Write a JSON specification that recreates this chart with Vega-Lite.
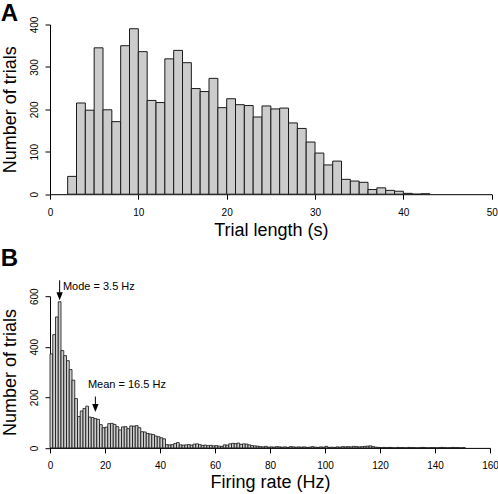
{
  "$schema": "https://vega.github.io/schema/vega-lite/v6.json",
  "padding": {"left": 0, "top": 1.5, "right": 0, "bottom": 0},
  "spacing": 101.7,
  "bounds": "flush",
  "config": {
    "view": {"stroke": null},
    "font": "Liberation Sans",
    "axis": {"grid": false, "domainColor": "#000", "tickColor": "#000", "labelColor": "#000", "titleColor": "#000", "tickSize": 5, "domainWidth": 1, "tickWidth": 1, "labelFont": "Liberation Sans", "titleFont": "Liberation Sans", "labelFontSize": 10, "titleFontSize": 18, "titleFontWeight": "normal", "labelFlush": false, "labelOverlap": false, "labelBound": false}
  },
  "vconcat": [
    {
      "title": {"text": "A", "anchor": "start", "frame": "group", "orient": "top", "dx": -49.3, "baseline": "alphabetic", "offset": -28.7, "fontSize": 24, "fontWeight": "bold", "font": "Liberation Sans", "color": "#000"},
      "width": 441.7,
      "height": 169.7,
      "data": {"values": [
        {"lo": 2, "hi": 3, "n": 42}, {"lo": 3, "hi": 4, "n": 215}, {"lo": 4, "hi": 5, "n": 198}, {"lo": 5, "hi": 6, "n": 345},
        {"lo": 6, "hi": 7, "n": 199}, {"lo": 7, "hi": 8, "n": 171}, {"lo": 8, "hi": 9, "n": 350}, {"lo": 9, "hi": 10, "n": 390},
        {"lo": 10, "hi": 11, "n": 336}, {"lo": 11, "hi": 12, "n": 221}, {"lo": 12, "hi": 13, "n": 216}, {"lo": 13, "hi": 14, "n": 319},
        {"lo": 14, "hi": 15, "n": 339}, {"lo": 15, "hi": 16, "n": 310}, {"lo": 16, "hi": 17, "n": 249}, {"lo": 17, "hi": 18, "n": 242},
        {"lo": 18, "hi": 19, "n": 273}, {"lo": 19, "hi": 20, "n": 204}, {"lo": 20, "hi": 21, "n": 225}, {"lo": 21, "hi": 22, "n": 211},
        {"lo": 22, "hi": 23, "n": 209}, {"lo": 23, "hi": 24, "n": 182}, {"lo": 24, "hi": 25, "n": 208}, {"lo": 25, "hi": 26, "n": 201},
        {"lo": 26, "hi": 27, "n": 203}, {"lo": 27, "hi": 28, "n": 168}, {"lo": 28, "hi": 29, "n": 155}, {"lo": 29, "hi": 30, "n": 123},
        {"lo": 30, "hi": 31, "n": 97}, {"lo": 31, "hi": 32, "n": 69}, {"lo": 32, "hi": 33, "n": 78}, {"lo": 33, "hi": 34, "n": 35},
        {"lo": 34, "hi": 35, "n": 31}, {"lo": 35, "hi": 36, "n": 28}, {"lo": 36, "hi": 37, "n": 11}, {"lo": 37, "hi": 38, "n": 15},
        {"lo": 38, "hi": 39, "n": 9}, {"lo": 39, "hi": 40, "n": 7}, {"lo": 40, "hi": 41, "n": 2}, {"lo": 41, "hi": 42, "n": 0},
        {"lo": 42, "hi": 43, "n": 1}
      ]},
      "mark": {"type": "bar", "fill": "#cccccc", "stroke": "#1a1a1a", "strokeWidth": 1},
      "encoding": {
        "x": {"field": "lo", "type": "quantitative", "scale": {"domain": [0, 50], "nice": false, "zero": false}, "axis": {"title": "Trial length (s)", "values": [0, 10, 20, 30, 40, 50], "labelBaseline": "alphabetic", "labelPadding": 16, "titleBaseline": "alphabetic", "titleAlign": "center", "titleX": 220.85, "titleY": 41}},
        "x2": {"field": "hi"},
        "y": {"field": "n", "type": "quantitative", "scale": {"domain": [0, 400], "nice": false}, "axis": {"title": "Number of trials", "values": [0, 100, 200, 300, 400], "labelAngle": 270, "labelAlign": "center", "labelBaseline": "alphabetic", "labelPadding": 7.6, "titleAngle": 270, "titleBaseline": "alphabetic", "titleAlign": "center", "titleX": -34.3, "titleY": 84.85}},
        "y2": {"datum": 0}
      }
    },
    {
      "title": {"text": "B", "anchor": "start", "frame": "group", "orient": "top", "dx": -49.3, "baseline": "alphabetic", "offset": -10.6, "fontSize": 24, "fontWeight": "bold", "font": "Liberation Sans", "color": "#000"},
      "width": 440,
      "height": 151.7,
      "layer": [
        {
          "data": {"values": [
            {"lo":0,"hi":1,"n":372},{"lo":1,"hi":2,"n":448},{"lo":2,"hi":3,"n":518},{"lo":3,"hi":4,"n":578},{"lo":4,"hi":5,"n":385},
            {"lo":5,"hi":6,"n":365},{"lo":6,"hi":7,"n":345},{"lo":7,"hi":8,"n":310},{"lo":8,"hi":9,"n":268},{"lo":9,"hi":10,"n":195},
            {"lo":10,"hi":11,"n":124},{"lo":11,"hi":12,"n":146},{"lo":12,"hi":13,"n":156},{"lo":13,"hi":14,"n":165},{"lo":14,"hi":15,"n":122},
            {"lo":15,"hi":16,"n":120},{"lo":16,"hi":17,"n":116},{"lo":17,"hi":18,"n":113},{"lo":18,"hi":19,"n":92},{"lo":19,"hi":20,"n":80},
            {"lo":20,"hi":21,"n":82},{"lo":21,"hi":22,"n":96},{"lo":22,"hi":23,"n":97},{"lo":23,"hi":24,"n":93},{"lo":24,"hi":25,"n":84},
            {"lo":25,"hi":26,"n":71},{"lo":26,"hi":27,"n":83},{"lo":27,"hi":28,"n":84},{"lo":28,"hi":29,"n":76},{"lo":29,"hi":30,"n":87},
            {"lo":30,"hi":31,"n":86},{"lo":31,"hi":32,"n":88},{"lo":32,"hi":33,"n":80},{"lo":33,"hi":34,"n":64},{"lo":34,"hi":35,"n":63},
            {"lo":35,"hi":36,"n":57},{"lo":36,"hi":37,"n":55},{"lo":37,"hi":38,"n":53},{"lo":38,"hi":39,"n":47},{"lo":39,"hi":40,"n":44},
            {"lo":40,"hi":41,"n":40},{"lo":41,"hi":42,"n":36},{"lo":42,"hi":43,"n":13},{"lo":43,"hi":44,"n":12},{"lo":44,"hi":45,"n":13},
            {"lo":45,"hi":46,"n":17},{"lo":46,"hi":47,"n":21},{"lo":47,"hi":48,"n":12},{"lo":48,"hi":49,"n":11},{"lo":49,"hi":50,"n":12},
            {"lo":50,"hi":51,"n":13},{"lo":51,"hi":52,"n":11},{"lo":52,"hi":53,"n":15},{"lo":53,"hi":54,"n":16},{"lo":54,"hi":55,"n":13},
            {"lo":55,"hi":56,"n":10},{"lo":56,"hi":57,"n":11},{"lo":57,"hi":58,"n":9},{"lo":58,"hi":59,"n":10},{"lo":59,"hi":60,"n":8},
            {"lo":60,"hi":61,"n":9},{"lo":61,"hi":62,"n":7},{"lo":62,"hi":63,"n":6},{"lo":63,"hi":64,"n":12},{"lo":64,"hi":65,"n":11},
            {"lo":65,"hi":66,"n":16},{"lo":66,"hi":67,"n":18},{"lo":67,"hi":68,"n":17},{"lo":68,"hi":69,"n":19},{"lo":69,"hi":70,"n":14},
            {"lo":70,"hi":71,"n":16},{"lo":71,"hi":72,"n":15},{"lo":72,"hi":73,"n":12},{"lo":73,"hi":74,"n":9},{"lo":74,"hi":75,"n":8},
            {"lo":75,"hi":76,"n":7},{"lo":76,"hi":77,"n":5},{"lo":77,"hi":78,"n":4},{"lo":78,"hi":79,"n":6},{"lo":79,"hi":80,"n":3},
            {"lo":80,"hi":81,"n":4},{"lo":81,"hi":82,"n":3},{"lo":82,"hi":83,"n":5},{"lo":83,"hi":84,"n":4},{"lo":84,"hi":85,"n":3},
            {"lo":85,"hi":86,"n":4},{"lo":86,"hi":87,"n":2},{"lo":87,"hi":88,"n":5},{"lo":88,"hi":89,"n":4},{"lo":89,"hi":90,"n":3},
            {"lo":90,"hi":91,"n":4},{"lo":91,"hi":92,"n":3},{"lo":92,"hi":93,"n":4},{"lo":93,"hi":94,"n":2},{"lo":94,"hi":95,"n":3},
            {"lo":95,"hi":96,"n":5},{"lo":96,"hi":97,"n":3},{"lo":97,"hi":98,"n":2},{"lo":98,"hi":99,"n":4},{"lo":99,"hi":100,"n":3},
            {"lo":100,"hi":101,"n":6},{"lo":101,"hi":102,"n":2},{"lo":102,"hi":103,"n":3},{"lo":103,"hi":104,"n":2},{"lo":104,"hi":105,"n":4},
            {"lo":105,"hi":106,"n":3},{"lo":106,"hi":107,"n":5},{"lo":107,"hi":108,"n":4},{"lo":108,"hi":109,"n":5},{"lo":109,"hi":110,"n":4},
            {"lo":110,"hi":111,"n":6},{"lo":111,"hi":112,"n":5},{"lo":112,"hi":113,"n":4},{"lo":113,"hi":114,"n":5},{"lo":114,"hi":115,"n":6},
            {"lo":115,"hi":116,"n":7},{"lo":116,"hi":117,"n":8},{"lo":117,"hi":118,"n":5},{"lo":118,"hi":119,"n":3},{"lo":119,"hi":120,"n":2},
            {"lo":120,"hi":121,"n":1},{"lo":121,"hi":122,"n":2},{"lo":122,"hi":123,"n":1},{"lo":123,"hi":124,"n":2},{"lo":124,"hi":125,"n":1},
            {"lo":125,"hi":126,"n":0},{"lo":126,"hi":127,"n":2},{"lo":127,"hi":128,"n":1},{"lo":128,"hi":129,"n":1},{"lo":129,"hi":130,"n":0},
            {"lo":130,"hi":131,"n":2},{"lo":131,"hi":132,"n":1},{"lo":132,"hi":133,"n":1},{"lo":133,"hi":134,"n":0},{"lo":134,"hi":135,"n":1},
            {"lo":135,"hi":136,"n":2},{"lo":136,"hi":137,"n":1},{"lo":137,"hi":138,"n":0},{"lo":138,"hi":139,"n":1},{"lo":139,"hi":140,"n":1},
            {"lo":140,"hi":141,"n":0},{"lo":141,"hi":142,"n":1},{"lo":142,"hi":143,"n":2},{"lo":143,"hi":144,"n":1},{"lo":144,"hi":145,"n":0},
            {"lo":145,"hi":146,"n":1},{"lo":146,"hi":147,"n":2},{"lo":147,"hi":148,"n":1},{"lo":148,"hi":149,"n":1},{"lo":149,"hi":150,"n":0},
            {"lo":150,"hi":151,"n":1}
          ]},
          "mark": {"type": "bar", "fill": "#cccccc", "stroke": "#111111", "strokeWidth": 0.8},
          "encoding": {
            "x": {"field": "lo", "type": "quantitative", "scale": {"domain": [0, 160], "nice": false, "zero": false}, "title": "Firing rate (Hz)", "axis": {"values": [0, 20, 40, 60, 80, 100, 120, 140, 160], "labelBaseline": "alphabetic", "labelPadding": 16, "titleBaseline": "alphabetic", "titleAlign": "center", "titleX": 220, "titleY": 40}},
            "x2": {"field": "hi"},
            "y": {"field": "n", "type": "quantitative", "scale": {"domain": [0, 600], "nice": false}, "title": "Number of trials", "axis": {"values": [0, 200, 400, 600], "labelAngle": 270, "labelAlign": "center", "labelBaseline": "alphabetic", "labelPadding": 7.6, "titleAngle": 270, "titleBaseline": "alphabetic", "titleAlign": "center", "titleX": -34.3, "titleY": 75.85}},
            "y2": {"datum": 0}
          }
        },
        {
          "data": {"name": "notes", "values": [
            {"label": "Mode = 3.5 Hz", "rate": 3.5, "top": 663, "head": 600, "tx": 4.7, "ty": 637},
            {"label": "Mean = 16.5 Hz", "rate": 16.5, "top": 203, "head": 158, "tx": 13.8, "ty": 248}
          ]},
          "layer": [
            {
              "mark": {"type": "rule", "stroke": "#000", "strokeWidth": 1},
              "encoding": {
                "x": {"field": "rate", "type": "quantitative", "title": "Firing rate (Hz)"},
                "y": {"field": "top", "type": "quantitative", "title": "Number of trials"},
                "y2": {"field": "head"}
              }
            },
            {
              "mark": {"type": "point", "shape": "M-0.8,-1L0.8,-1L0,1Z", "filled": true, "fill": "#000", "stroke": null, "size": 64, "opacity": 1},
              "encoding": {
                "x": {"field": "rate", "type": "quantitative", "title": "Firing rate (Hz)"},
                "y": {"field": "head", "type": "quantitative", "title": "Number of trials"}
              }
            },
            {
              "mark": {"type": "text", "align": "left", "baseline": "middle", "fontSize": 11, "font": "Liberation Sans", "color": "#000"},
              "encoding": {
                "x": {"field": "tx", "type": "quantitative", "title": "Firing rate (Hz)"},
                "y": {"field": "ty", "type": "quantitative", "title": "Number of trials"},
                "text": {"field": "label"}
              }
            }
          ]
        }
      ]
    }
  ]
}
